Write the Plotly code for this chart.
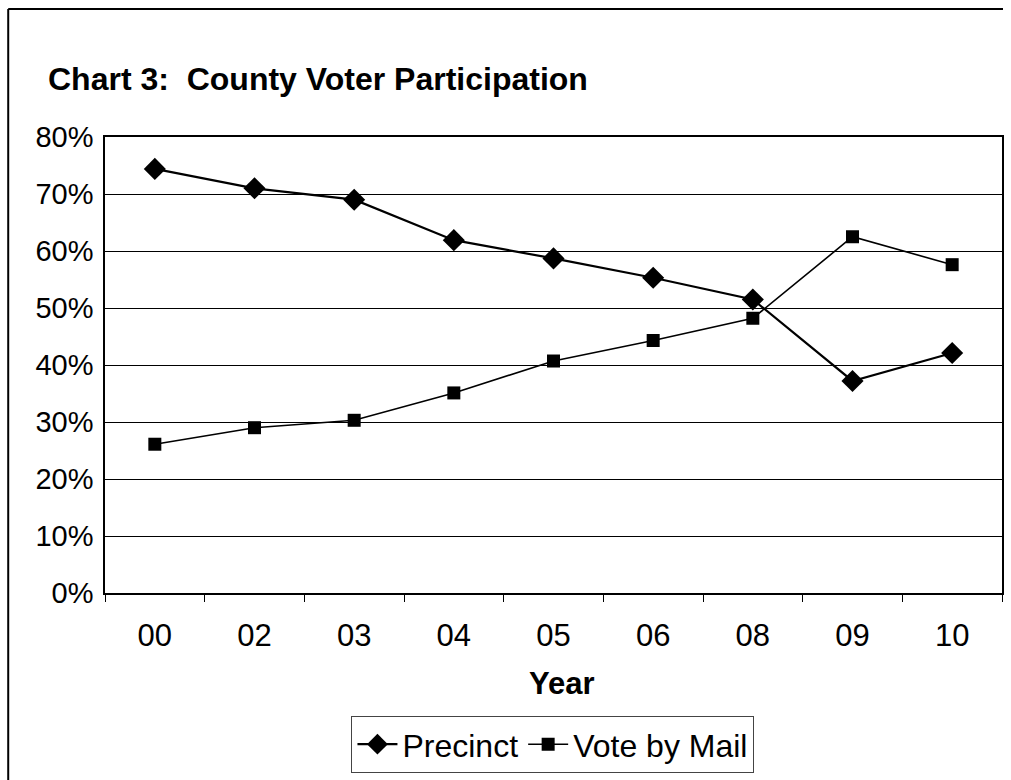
import plotly.graph_objects as go

# Election years (two-digit labels) and turnout share by voting method
years = ["00", "02", "03", "04", "05", "06", "08", "09", "10"]
precinct = [0.744, 0.710, 0.690, 0.619, 0.587, 0.553, 0.515, 0.372, 0.421]
vote_by_mail = [0.261, 0.290, 0.303, 0.351, 0.407, 0.443, 0.482, 0.625, 0.576]
y_ticks = [0.0, 0.1, 0.2, 0.3, 0.4, 0.5, 0.6, 0.7, 0.8]

W, H = 1011, 780
L, R, T, B = 105, 7, 137, 183
pw, ph = W - L - R, H - T - B


def px_x(p):
    return (p - L) / pw


def px_y(p):
    return (H - B - p) / ph


font = "Arial, Liberation Sans, sans-serif"

fig = go.Figure()
fig.add_trace(go.Scatter(
    x=years, y=precinct, name="Precinct", mode="lines+markers",
    line=dict(color="black", width=2.2),
    marker=dict(symbol="diamond", size=17, color="black"),
))
fig.add_trace(go.Scatter(
    x=years, y=vote_by_mail, name="Vote by Mail", mode="lines+markers",
    line=dict(color="black", width=1.6),
    marker=dict(symbol="square", size=13, color="black"),
))

fig.update_layout(
    width=W, height=H,
    margin=dict(l=L, r=R, t=T, b=B, pad=0),
    paper_bgcolor="white", plot_bgcolor="white",
    font=dict(family=font, color="black"),
    showlegend=True,
    legend=dict(
        orientation="h", x=px_x(352), y=px_y(721), xanchor="left", yanchor="top",
        bordercolor="#444", borderwidth=1, bgcolor="white",
        font=dict(size=32, family=font), itemwidth=40,
        traceorder="normal", tracegroupgap=0,
    ),
)

fig.update_xaxes(
    type="category", range=[-0.5, len(years) - 0.5],
    showgrid=False, showline=True, linecolor="black", linewidth=1.5,
    mirror=True, ticks="outside", ticklen=7, tickcolor="black",
    tickson="boundaries", tickfont=dict(size=31, family=font),
    ticklabelstandoff=14,
)
fig.update_yaxes(
    range=[0, 0.8], tickvals=y_ticks, tickformat=".0%",
    showgrid=True, gridcolor="black", gridwidth=1.4,
    showline=True, linecolor="black", linewidth=1.5, mirror=True,
    ticks="", tickfont=dict(size=29, family=font), ticklabelstandoff=4,
    zeroline=False,
)

# Chart title and x-axis title
fig.add_annotation(
    text="<b>Chart 3:  County Voter Participation</b>", xref="paper", yref="paper",
    x=px_x(46), y=px_y(78), xanchor="left", yanchor="middle", showarrow=False,
    font=dict(size=32, family=font),
)
fig.add_annotation(
    text="<b>Year</b>", xref="paper", yref="paper",
    x=px_x(563), y=px_y(688), xanchor="center", yanchor="middle", showarrow=False,
    font=dict(size=31, family=font),
)

# Outer frame: left and top edges of the chart border
fig.add_shape(
    type="line", xref="paper", yref="paper",
    x0=px_x(8), x1=px_x(8), y0=px_y(800), y1=px_y(8),
    line=dict(color="black", width=2), layer="below",
)
fig.add_shape(
    type="line", xref="paper", yref="paper",
    x0=px_x(8), x1=px_x(1005), y0=px_y(8), y1=px_y(8),
    line=dict(color="black", width=2), layer="below",
)

fig.write_html("out.html")
